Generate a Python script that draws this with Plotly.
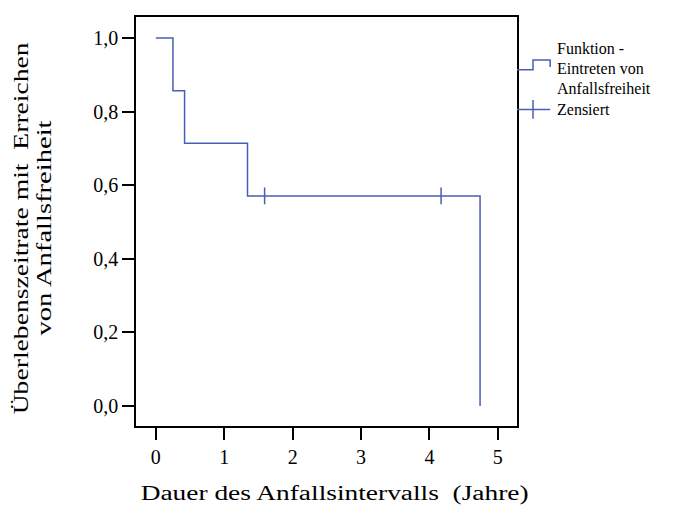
import plotly.graph_objects as go

# Kaplan-Meier step data
event_times = [0.0, 0.25, 0.42, 1.34, 4.74]
survival = [1.0, 0.857, 0.714, 0.571, 0.0]
censor_times = [1.59, 4.17]
censor_survival = [0.571, 0.571]

x_ticks = [0, 1, 2, 3, 4, 5]
y_ticks = [0.0, 0.2, 0.4, 0.6, 0.8, 1.0]

x_title = "Dauer des Anfallsintervalls\u00a0 (Jahre)"
y_title_1 = "Überlebenszeitrate mit\u00a0 Erreichen"
y_title_2 = "von Anfallsfreiheit"
legend_lines = ["Funktion -", "Eintreten von", "Anfallsfreiheit"]
legend_censor = "Zensiert"

BLUE = "#4A5EB5"
FONT = "Liberation Serif"

fig = go.Figure()
fig.add_trace(go.Scatter(
    x=event_times, y=survival, mode="lines", line_shape="hv",
    line=dict(color=BLUE, width=1.5), showlegend=False, hoverinfo="skip"))
fig.add_trace(go.Scatter(
    x=censor_times, y=censor_survival, mode="markers",
    marker=dict(symbol="line-ns", size=12, line=dict(color=BLUE, width=1.5)),
    showlegend=False, hoverinfo="skip"))

fig.update_layout(
    width=676, height=506,
    margin=dict(l=128, r=167, t=7, b=88),
    plot_bgcolor="white", paper_bgcolor="white",
    separators=",.",
    font=dict(family=FONT, size=20, color="black"),
    xaxis=dict(range=[-0.29, 5.28], tickvals=x_ticks, ticks="outside",
               ticklen=12, tickwidth=1.5, tickcolor="black",
               showline=True, linecolor="black", linewidth=1.5, mirror=True,
               showgrid=False, zeroline=False),
    yaxis=dict(range=[-0.054, 1.057], tickvals=y_ticks, tickformat=".1f",
               ticks="outside", ticklen=12, tickwidth=1.5, tickcolor="black",
               showline=True, linecolor="black", linewidth=1.5, mirror=True,
               showgrid=False, zeroline=False),
)

# axis titles as annotations (later widened to match the reference)
fig.add_annotation(text=x_title, xref="paper", yref="paper", x=0.52, y=-0.165,
                   showarrow=False, xanchor="center", yanchor="middle",
                   font=dict(family=FONT, size=20))
fig.add_annotation(text=y_title_1, xref="paper", yref="paper", x=-0.302, y=0.484,
                   textangle=-90, showarrow=False, xanchor="center", yanchor="middle",
                   font=dict(family=FONT, size=20))
fig.add_annotation(text=y_title_2, xref="paper", yref="paper", x=-0.241, y=0.484,
                   textangle=-90, showarrow=False, xanchor="center", yanchor="middle",
                   font=dict(family=FONT, size=20))

# legend drawn manually at the right of the plot
fig.add_shape(type="path", xref="paper", yref="paper",
              path="M 1.0 0.871 L 1.042 0.871 L 1.042 0.895 L 1.087 0.895 L 1.087 0.878",
              line=dict(color=BLUE, width=1.5))
fig.add_shape(type="line", xref="paper", yref="paper",
              x0=1.0, x1=1.087, y0=0.774, y1=0.774, line=dict(color=BLUE, width=1.5))
fig.add_shape(type="line", xref="paper", yref="paper",
              x0=1.042, x1=1.042, y0=0.751, y1=0.797, line=dict(color=BLUE, width=1.5))
for txt, yy in zip(legend_lines, [0.922, 0.873, 0.825]):
    fig.add_annotation(text=txt, xref="paper", yref="paper", x=1.1, y=yy,
                       xanchor="left", yanchor="middle", align="left", showarrow=False,
                       font=dict(family=FONT, size=16))
fig.add_annotation(text=legend_censor, xref="paper", yref="paper", x=1.1, y=0.774,
                   xanchor="left", yanchor="middle", align="left", showarrow=False,
                   font=dict(family=FONT, size=16))

post = """
var gd = document.getElementById('{plot_id}');
function stretch(el, len){ el.setAttribute('textLength', len); el.setAttribute('lengthAdjust', 'spacingAndGlyphs'); }
gd.querySelectorAll('.annotation-text').forEach(function(t){
  var s = t.textContent;
  if (s.indexOf('Dauer') === 0) stretch(t, 388);
  else if (s.indexOf('Überlebens') === 0) stretch(t, 372);
  else if (s.indexOf('von Anfalls') === 0) stretch(t, 215);
});
"""

fig.write_html("out.html", post_script=post)
